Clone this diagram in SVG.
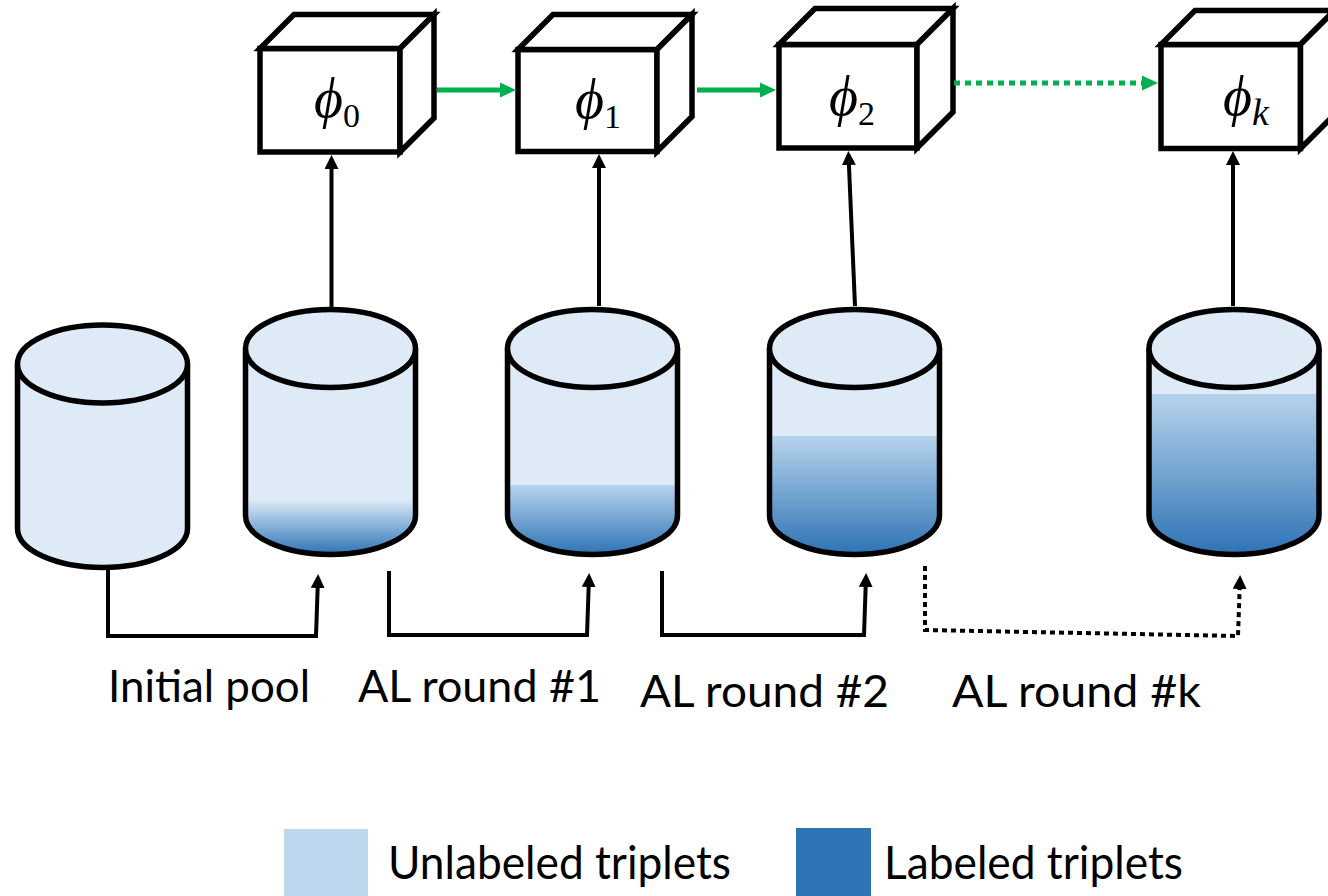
<svg xmlns="http://www.w3.org/2000/svg" width="1328" height="896" viewBox="0 0 1328 896">
<style>
.cube{fill:#fff;stroke:#000;stroke-width:5.5;stroke-linejoin:miter}
.body{fill:#deeaf6;stroke:none}
.out{fill:none;stroke:#000;stroke-width:5.5}
.top{fill:#deeaf6;stroke:#000;stroke-width:5.5}
.lbl{fill:url(#lg);stroke:none}
.phi{font-family:"Liberation Serif","DejaVu Serif",serif;font-style:italic;font-size:56px;fill:#000}
.sub{font-family:"Liberation Serif","DejaVu Serif",serif;font-size:34px;font-style:normal}
.subi{font-family:"Liberation Serif","DejaVu Serif",serif;font-size:38px;font-style:italic}
.t{font-family:Lato,"Open Sans",sans-serif;font-size:44px;fill:#000}
.lt{font-family:Lato,"Open Sans",sans-serif;font-size:46px;fill:#000}
.k{fill:none;stroke:#000;stroke-width:4}
.kd{fill:none;stroke:#000;stroke-width:4;stroke-dasharray:5 4}
.g{fill:none;stroke:#00b050;stroke-width:5}
.gd{fill:none;stroke:#00b050;stroke-width:5;stroke-dasharray:6 5}
</style>
<defs>
<linearGradient id="lg" x1="0" y1="0" x2="0" y2="1">
<stop offset="0" stop-color="#b7d3ec"/>
<stop offset="1" stop-color="#2e73b5"/>
</linearGradient>
<linearGradient id="lg1" x1="0" y1="0" x2="0" y2="1">
<stop offset="0" stop-color="#deeaf6"/>
<stop offset="0.25" stop-color="#aecbe7"/>
<stop offset="1" stop-color="#2e73b5"/>
</linearGradient>
<marker id="ah" markerUnits="userSpaceOnUse" markerWidth="14" markerHeight="14" viewBox="0 0 14 14" refX="10" refY="7" orient="auto"><path d="M0,0 L14,7 L0,14 z" fill="#000"/></marker>
<marker id="ga" markerUnits="userSpaceOnUse" markerWidth="16" markerHeight="16" viewBox="0 0 16 16" refX="10" refY="8" orient="auto"><path d="M0,0.5 L16,8 L0,15.5 z" fill="#00b050"/></marker>
</defs>

<g id="cube0">
<rect class="cube" x="260" y="48.5" width="140" height="103.5"/>
<path class="cube" d="M260,48.5 L294,14.5 L434,14.5 L400,48.5 Z"/>
<path class="cube" d="M400,48.5 L434,14.5 L434,118 L400,152 Z"/>
<text class="phi" x="314" y="117">ϕ<tspan class="sub" dy="10">0</tspan></text>
</g>
<g id="cube1">
<rect class="cube" x="518" y="49.5" width="139" height="102"/>
<path class="cube" d="M518,49.5 L553,14.5 L692,14.5 L657,49.5 Z"/>
<path class="cube" d="M657,49.5 L692,14.5 L692,116.5 L657,151.5 Z"/>
<text class="phi" x="575" y="118">ϕ<tspan class="sub" dy="10">1</tspan></text>
</g>
<g id="cube2">
<rect class="cube" x="779" y="44.5" width="138" height="103.5"/>
<path class="cube" d="M779,44.5 L815,8.5 L953,8.5 L917,44.5 Z"/>
<path class="cube" d="M917,44.5 L953,8.5 L953,112 L917,148 Z"/>
<text class="phi" x="829" y="115">ϕ<tspan class="sub" dy="10">2</tspan></text>
</g>
<g id="cubek">
<rect class="cube" x="1161" y="44.5" width="139.5" height="104"/>
<path class="cube" d="M1161,44.5 L1195,10.5 L1334.5,10.5 L1300.5,44.5 Z"/>
<path class="cube" d="M1300.5,44.5 L1334.5,10.5 L1334.5,114.5 L1300.5,148.5 Z"/>
<text class="phi" x="1223" y="115">ϕ<tspan class="subi" dy="10">k</tspan></text>
</g>

<g id="cyl0">
<path class="body" d="M17.5,364 L17.5,528.5 A85,39 0 0 0 187.5,528.5 L187.5,364 Z"/>
<path class="out" d="M17.5,364 L17.5,528.5 A85,39 0 0 0 187.5,528.5 L187.5,364"/>
<ellipse class="top" cx="102.5" cy="364" rx="85" ry="39"/>
</g>
<g id="cyl1">
<path class="body" d="M245.5,348.5 L245.5,515.5 A85,39 0 0 0 415.5,515.5 L415.5,348.5 Z"/>
<path fill="url(#lg1)" d="M245.5,500 L415.5,500 L415.5,515.5 A85,39 0 0 1 245.5,515.5 Z"/>
<path class="out" d="M245.5,348.5 L245.5,515.5 A85,39 0 0 0 415.5,515.5 L415.5,348.5"/>
<ellipse class="top" cx="330.5" cy="348.5" rx="85" ry="39"/>
</g>
<g id="cyl2">
<path class="body" d="M507.5,348.5 L507.5,515.5 A85,39 0 0 0 677.5,515.5 L677.5,348.5 Z"/>
<path class="lbl" d="M507.5,485 L677.5,485 L677.5,515.5 A85,39 0 0 1 507.5,515.5 Z"/>
<path class="out" d="M507.5,348.5 L507.5,515.5 A85,39 0 0 0 677.5,515.5 L677.5,348.5"/>
<ellipse class="top" cx="592.5" cy="348.5" rx="85" ry="39"/>
</g>
<g id="cyl3">
<path class="body" d="M769.5,348.5 L769.5,515.5 A85,39 0 0 0 939.5,515.5 L939.5,348.5 Z"/>
<path class="lbl" d="M769.5,436 L939.5,436 L939.5,515.5 A85,39 0 0 1 769.5,515.5 Z"/>
<path class="out" d="M769.5,348.5 L769.5,515.5 A85,39 0 0 0 939.5,515.5 L939.5,348.5"/>
<ellipse class="top" cx="854.5" cy="348.5" rx="85" ry="39"/>
</g>
<g id="cylk">
<path class="body" d="M1149,348.5 L1149,515.5 A85,39 0 0 0 1319,515.5 L1319,348.5 Z"/>
<path class="lbl" d="M1149,394 L1319,394 L1319,515.5 A85,39 0 0 1 1149,515.5 Z"/>
<path class="out" d="M1149,348.5 L1149,515.5 A85,39 0 0 0 1319,515.5 L1319,348.5"/>
<ellipse class="top" cx="1234" cy="348.5" rx="85" ry="39"/>
</g>

<g id="connectors">
<line class="k" x1="331.5" y1="307" x2="331.5" y2="159" marker-end="url(#ah)"/>
<line class="k" x1="599" y1="306" x2="599" y2="158" marker-end="url(#ah)"/>
<line class="k" x1="855" y1="306" x2="848.5" y2="155" marker-end="url(#ah)"/>
<line class="k" x1="1233" y1="306" x2="1233" y2="155" marker-end="url(#ah)"/>
<line class="g" x1="437" y1="90" x2="510" y2="90" marker-end="url(#ga)"/>
<line class="g" x1="697" y1="90" x2="770" y2="90" marker-end="url(#ga)"/>
<line class="gd" x1="954" y1="83" x2="1152" y2="83" marker-end="url(#ga)"/>
<polyline class="k" points="108,570 108,636 316,636 318,578" marker-end="url(#ah)"/>
<polyline class="k" points="389,571 389,635 587,635 589,577" marker-end="url(#ah)"/>
<polyline class="k" points="662,571 662,635 864,635 866,577" marker-end="url(#ah)"/>
<polyline class="kd" points="925,566 925,630 1238,636 1240,579" marker-end="url(#ah)"/>
</g>

<g id="labels">
<text class="t" x="108" y="702" textLength="202" lengthAdjust="spacingAndGlyphs">Initial pool</text>
<text class="t" x="358" y="702" textLength="243" lengthAdjust="spacingAndGlyphs">AL round #1</text>
<text class="t" x="640" y="707" textLength="249" lengthAdjust="spacingAndGlyphs">AL round #2</text>
<text class="t" x="952" y="707" textLength="249" lengthAdjust="spacingAndGlyphs">AL round #k</text>
</g>

<g id="legend">
<rect x="284" y="829" width="84" height="67" fill="#bdd7ee"/>
<text class="lt" x="388" y="879" textLength="343" lengthAdjust="spacingAndGlyphs">Unlabeled triplets</text>
<rect x="796" y="828" width="75" height="68" fill="#2e75b6"/>
<text class="lt" x="884" y="879" textLength="299" lengthAdjust="spacingAndGlyphs">Labeled triplets</text>
</g>
</svg>
